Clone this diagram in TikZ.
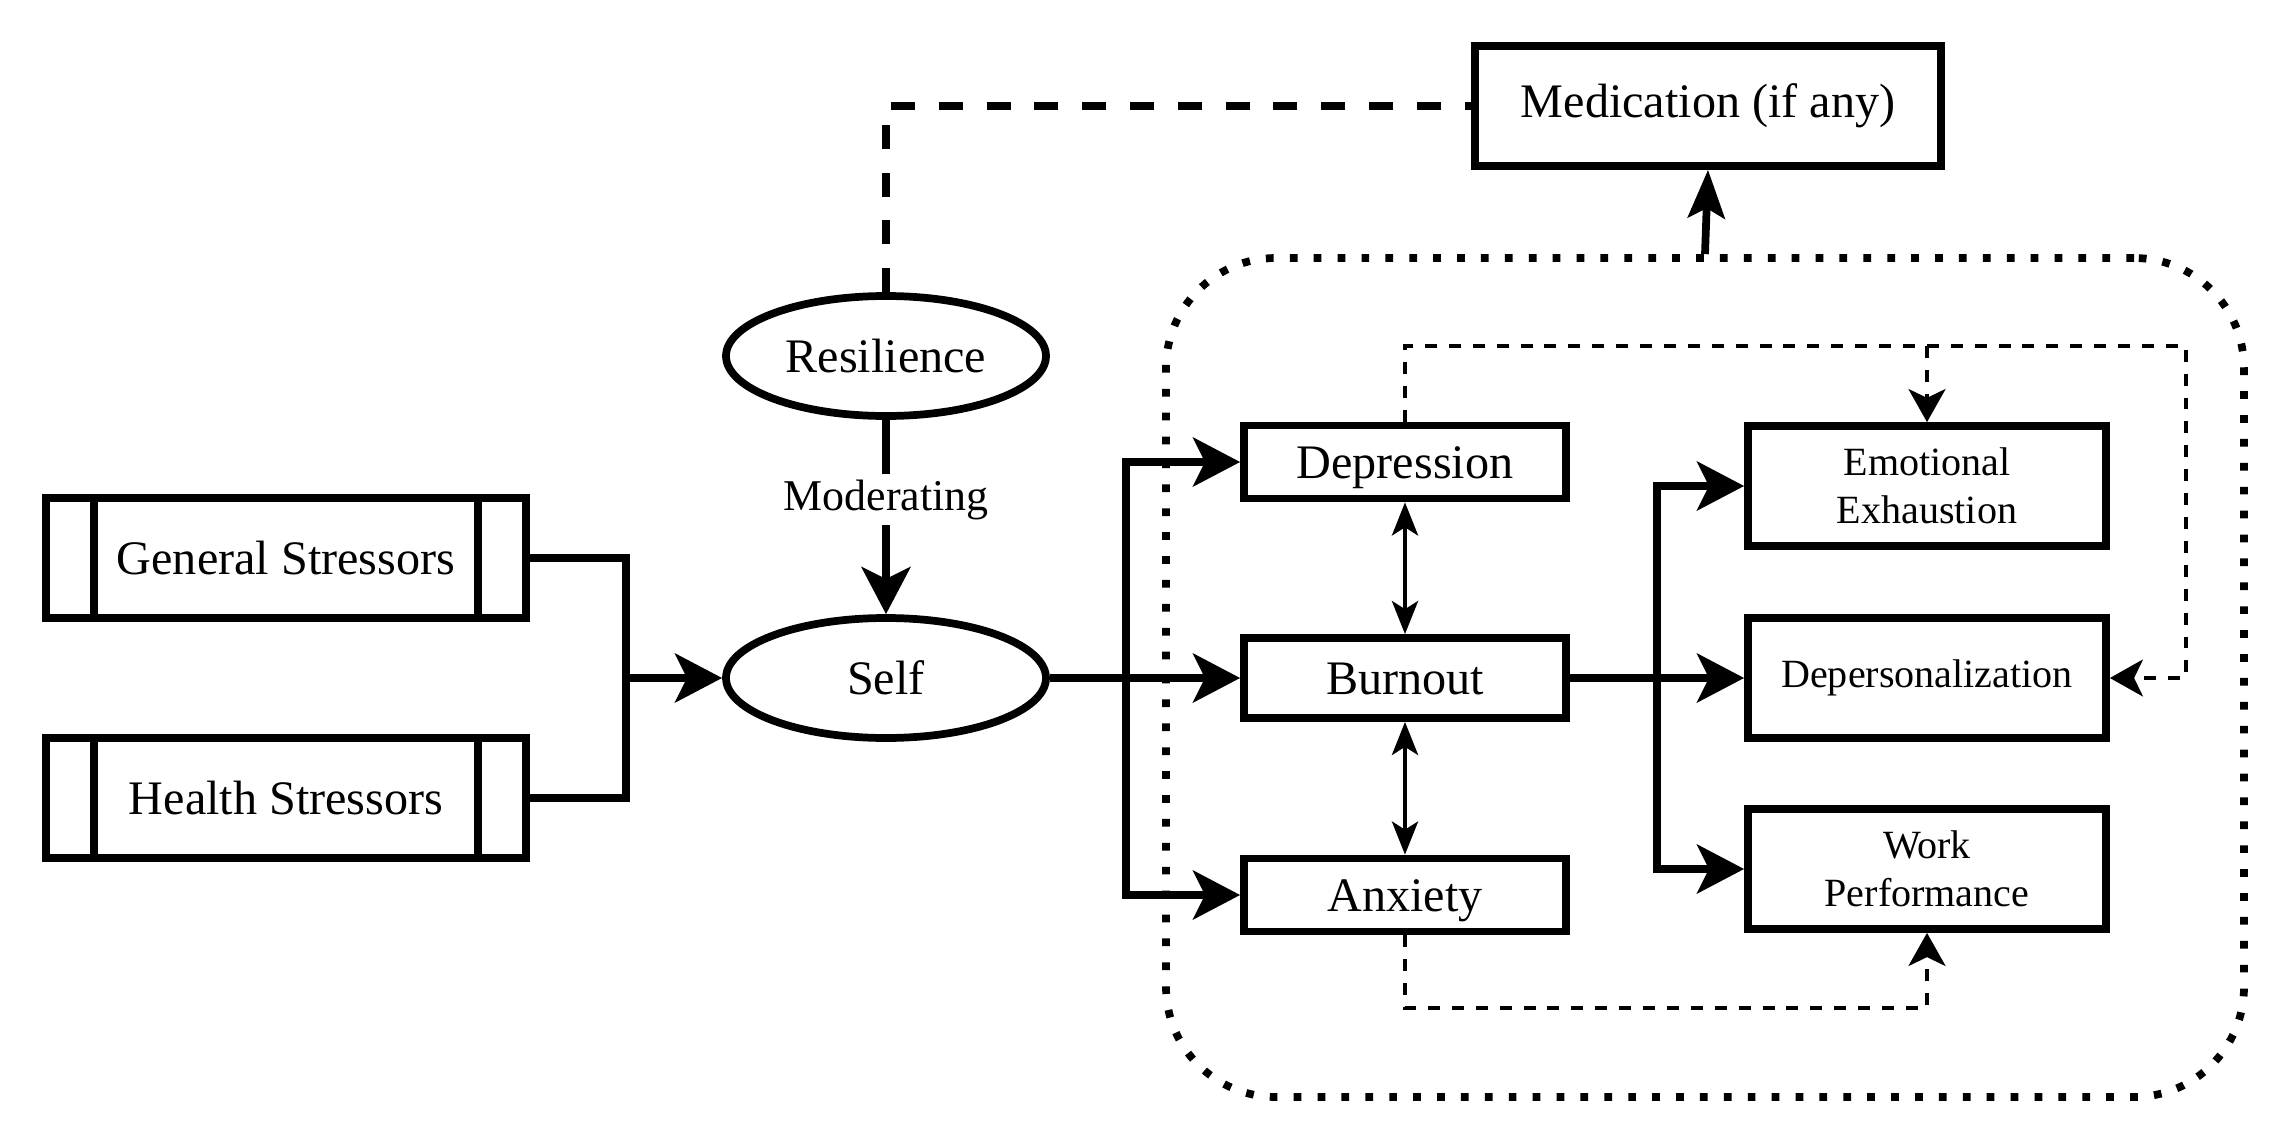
\documentclass[tikz,border=0pt]{standalone}
\usepackage{fontspec}
\setmainfont{Liberation Serif}
\usetikzlibrary{arrows.meta,shapes.geometric}

\begin{document}
\begin{tikzpicture}[x=1cm, y=-1cm,
  thickline/.style={line width=2.2pt},
  box/.style={draw, thickline, rectangle, align=center, inner sep=0pt,
    font=\fontsize{13.7pt}{16.4pt}\selectfont},
  smallbox/.style={box, minimum width=3.58cm, minimum height=1.2cm,
    font=\fontsize{11.4pt}{13.7pt}\selectfont},
  midbox/.style={box, minimum width=3.22cm, minimum height=0.73cm,
    text height=9.4pt, text depth=0pt},
  stressor/.style={box, minimum width=4.8cm, minimum height=1.2cm},
  oval/.style={draw, thickline, ellipse, minimum width=3.2cm, minimum height=1.2cm,
    inner sep=0pt, font=\fontsize{13.7pt}{16.4pt}\selectfont},
  flow/.style={thickline, -{Stealth[length=13.4pt, width=13.9pt, inset=3.4pt]}},
  twoway/.style={line width=1.3pt, {Stealth[length=9.4pt, width=7.4pt, inset=2.3pt]}-{Stealth[length=9.4pt, width=7.4pt, inset=2.3pt]}},
  link/.style={line width=1.15pt, dash pattern=on 3.4pt off 3.4pt,
    -{Stealth[length=9.4pt, width=10.5pt, inset=2.5pt]}},
  bigdash/.style={thickline, dash pattern=on 6.8pt off 6.8pt}
]
  \useasboundingbox (0,0) rectangle (22.88,11.40);

  \node[draw, line width=2.2pt, dash pattern=on 2.2pt off 4.6pt, rounded corners=1.1cm,
    minimum width=10.78cm, minimum height=8.39cm] (cluster) at (17.05,6.775) {};

  \node[stressor] (gen) at (2.86,5.58) {General Stressors};
  \node[stressor] (hea) at (2.86,7.98) {Health Stressors};
  \foreach \s in {gen,hea} {
    \draw[thickline] ([xshift=0.52cm]\s.north west) -- ([xshift=0.52cm]\s.south west);
    \draw[thickline] ([xshift=-0.52cm]\s.north east) -- ([xshift=-0.52cm]\s.south east);
  }

  \node[oval] (self) at (8.86,6.78) {Self};
  \node[oval] (res) at (8.86,3.56) {Resilience};
  \node[box, minimum width=4.66cm, minimum height=1.2cm] (med) at (17.08,1.06) {Medication (if any)};

  \node[midbox] (dep) at (14.05,4.62) {Depression};
  \node[midbox, minimum height=0.8cm] (bur) at (14.05,6.78) {Burnout};
  \node[midbox] (anx) at (14.05,8.95) {Anxiety};

  \node[smallbox] (emo) at (19.27,4.86) {Emotional\\Exhaustion};
  \node[smallbox] (dpr) at (19.27,6.78) {Depersonalization};
  \node[smallbox] (wrk) at (19.27,8.69) {Work\\Performance};

  \coordinate (j1) at (6.26,6.78);
  \coordinate (j2) at (11.26,6.78);
  \coordinate (j3) at (16.57,6.78);
  \coordinate (fb) at (21.86,3.46);
  \coordinate (fbe) at (emo |- fb);
  \coordinate (lowy) at (0,10.08);
  \coordinate (fw) at (wrk |- lowy);

  \draw[thickline] (gen.east) -| (j1);
  \draw[thickline] (hea.east) -| (j1);
  \draw[flow] (j1) -- (self);

  \draw[flow] (res) -- node[pos=0.41, fill=white, inner sep=1.5pt,
    font=\fontsize{12.5pt}{15pt}\selectfont] (mod) {Moderating} (self);
  \draw[bigdash] (res.north) |- (med.west);

  \draw[thickline] (self.east) -- (j2);
  \draw[flow] (j2) |- (dep);
  \draw[flow] (j2) -- (bur);
  \draw[flow] (j2) |- (anx);

  \draw[thickline] (bur.east) -- (j3);
  \draw[flow] (j3) |- (emo);
  \draw[flow] (j3) -- (dpr);
  \draw[flow] (j3) |- (wrk);

  \draw[twoway] (dep) -- (bur);
  \draw[twoway] (bur) -- (anx);

  \draw[link] (dep.north) |- (fb) |- (dpr.east);
  \draw[link] (fbe) -- (emo.north);
  \draw[link] (anx.south) |- (fw) -- (wrk.south);

  \draw[thickline, -{Stealth[length=13.7pt, width=10.5pt, inset=2.8pt]}] (cluster.north) -- (med.south);
\end{tikzpicture}
\end{document}
